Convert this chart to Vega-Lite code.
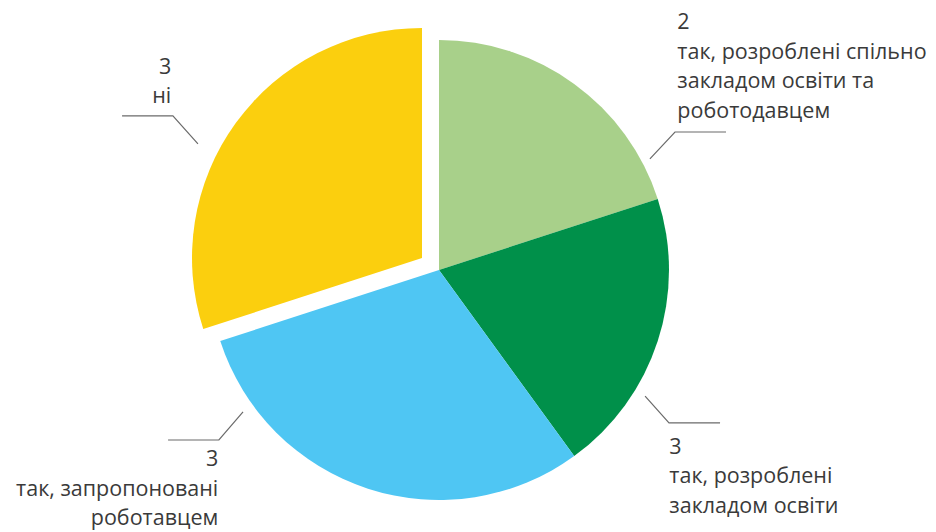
{
  "$schema": "https://vega.github.io/schema/vega-lite/v6.json",
  "width": 878,
  "height": 524,
  "autosize": {"type": "none"},
  "padding": {"left": 0, "right": 58, "top": 8, "bottom": 0},
  "background": "white",
  "config": {"view": {"stroke": null}},
  "datasets": {
    "slices": [
      {"idx": 1, "cat": "так, розроблені спільно закладом освіти та роботодавцем", "count": 2, "share": 20, "label": "2\nтак, розроблені спільно\nзакладом освіти та\nроботодавцем"},
      {"idx": 2, "cat": "так, розроблені закладом освіти", "count": 3, "share": 20, "label": "3\nтак, розроблені\nзакладом освіти"},
      {"idx": 3, "cat": "так, запропоновані роботавцем", "count": 3, "share": 30, "label": "3\nтак, запропоновані\nроботавцем"},
      {"idx": 4, "cat": "ні", "count": 3, "share": 30, "label": "3\nні"}
    ],
    "leaders": [
      {"slice": 1, "seq": 1, "x": 0.917, "y": 0.483},
      {"slice": 1, "seq": 2, "x": 1.026, "y": 0.6},
      {"slice": 1, "seq": 3, "x": 1.248, "y": 0.6},
      {"slice": 2, "seq": 1, "x": 0.896, "y": -0.548},
      {"slice": 2, "seq": 2, "x": 1.0, "y": -0.665},
      {"slice": 2, "seq": 3, "x": 1.222, "y": -0.665},
      {"slice": 3, "seq": 1, "x": -0.852, "y": -0.617},
      {"slice": 3, "seq": 2, "x": -0.957, "y": -0.739},
      {"slice": 3, "seq": 3, "x": -1.178, "y": -0.739},
      {"slice": 4, "seq": 1, "x": -1.048, "y": 0.548},
      {"slice": 4, "seq": 2, "x": -1.157, "y": 0.67},
      {"slice": 4, "seq": 3, "x": -1.378, "y": 0.67}
    ]
  },
  "layer": [
    {
      "data": {"name": "slices"},
      "mark": {"type": "arc", "radius": 230},
      "encoding": {
        "theta": {"field": "share", "type": "quantitative", "stack": true},
        "order": {"field": "idx", "type": "quantitative"},
        "color": {"field": "cat", "type": "nominal", "legend": null,
          "scale": {"domain": ["так, розроблені спільно закладом освіти та роботодавцем", "так, розроблені закладом освіти", "так, запропоновані роботавцем", "ні"],
                    "range": ["#A8D08A", "#00904A", "#4FC6F3", "#FBCF0E"]}},
        "opacity": {"condition": {"test": "datum.idx === 4", "value": 0}, "value": 1}
      }
    },
    {
      "data": {"name": "slices"},
      "mark": {"type": "arc", "radius": 230, "xOffset": -17, "yOffset": -12},
      "encoding": {
        "theta": {"field": "share", "type": "quantitative", "stack": true},
        "order": {"field": "idx", "type": "quantitative"},
        "color": {"field": "cat", "type": "nominal", "legend": null},
        "opacity": {"condition": {"test": "datum.idx === 4", "value": 1}, "value": 0}
      }
    },
    {
      "data": {"name": "leaders"},
      "mark": {"type": "line", "color": "#6b6b6b", "strokeWidth": 1.2},
      "encoding": {
        "x": {"field": "x", "type": "quantitative", "axis": null, "scale": {"domain": [-1.9087, 1.9087], "nice": false, "zero": false}},
        "y": {"field": "y", "type": "quantitative", "axis": null, "scale": {"domain": [-1.1391, 1.1391], "nice": false, "zero": false}},
        "detail": {"field": "slice", "type": "nominal"},
        "order": {"field": "seq", "type": "quantitative"}
      }
    },
    {
      "data": {"name": "slices"},
      "mark": {"type": "text", "radius": 300, "align": "left", "baseline": "alphabetic", "dx": 62, "dy": 2, "font": "Open Sans", "fontSize": 21.5, "lineHeight": 29.5, "lineBreak": "\n", "color": "#3a3a3a"},
      "encoding": {
        "theta": {"field": "share", "type": "quantitative", "stack": true},
        "order": {"field": "idx", "type": "quantitative"},
        "text": {"field": "label", "type": "nominal"},
        "opacity": {"condition": {"test": "datum.idx === 1", "value": 1}, "value": 0}
      }
    },
    {
      "data": {"name": "slices"},
      "mark": {"type": "text", "radius": 300, "align": "left", "baseline": "alphabetic", "dx": -55, "dy": 91, "font": "Open Sans", "fontSize": 21.5, "lineHeight": 29.5, "lineBreak": "\n", "color": "#3a3a3a"},
      "encoding": {
        "theta": {"field": "share", "type": "quantitative", "stack": true},
        "order": {"field": "idx", "type": "quantitative"},
        "text": {"field": "label", "type": "nominal"},
        "opacity": {"condition": {"test": "datum.idx === 2", "value": 1}, "value": 0}
      }
    },
    {
      "data": {"name": "slices"},
      "mark": {"type": "text", "radius": 300, "align": "right", "baseline": "alphabetic", "dx": -128, "dy": -89, "font": "Open Sans", "fontSize": 21.5, "lineHeight": 29.5, "lineBreak": "\n", "color": "#3a3a3a"},
      "encoding": {
        "theta": {"field": "share", "type": "quantitative", "stack": true},
        "order": {"field": "idx", "type": "quantitative"},
        "text": {"field": "label", "type": "nominal"},
        "opacity": {"condition": {"test": "datum.idx === 3", "value": 1}, "value": 0}
      }
    },
    {
      "data": {"name": "slices"},
      "mark": {"type": "text", "radius": 300, "align": "right", "baseline": "alphabetic", "dx": -25, "dy": -20, "font": "Open Sans", "fontSize": 21.5, "lineHeight": 29.5, "lineBreak": "\n", "color": "#3a3a3a"},
      "encoding": {
        "theta": {"field": "share", "type": "quantitative", "stack": true},
        "order": {"field": "idx", "type": "quantitative"},
        "text": {"field": "label", "type": "nominal"},
        "opacity": {"condition": {"test": "datum.idx === 4", "value": 1}, "value": 0}
      }
    }
  ]
}
